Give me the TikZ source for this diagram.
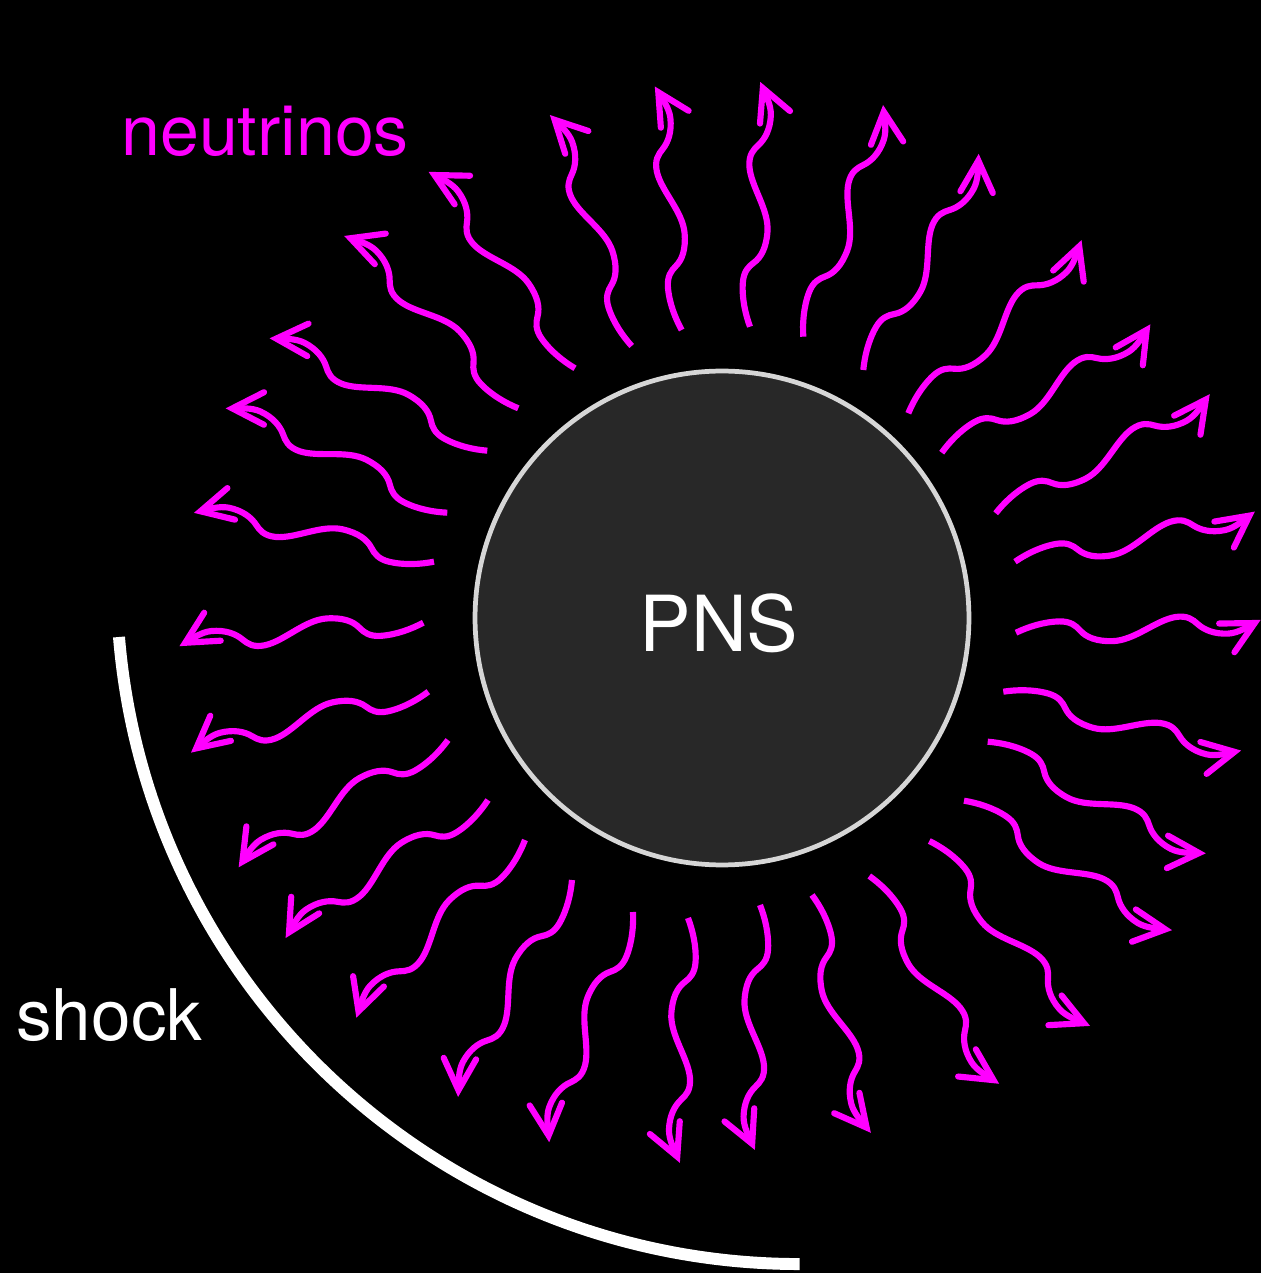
\documentclass[tikz,border=0pt]{standalone}
\usepackage{fontspec}
\setmainfont{TeX Gyre Heros}
\usetikzlibrary{arrows.meta}

\definecolor{nucol}{RGB}{255,0,255}
\definecolor{pnsfill}{RGB}{40,40,40}
\definecolor{pnsrim}{RGB}{214,214,214}

\begin{document}
\begin{tikzpicture}[x=0.02cm, y=0.02cm,
  >={Straight Barb[length=18pt,width=18.5pt,line cap=round,line join=miter]},
  nu/.style={draw=nucol, line width=3.5pt, ->},
  star/.style={circle, fill=pnsfill, draw=pnsrim, line width=2.7pt,
    minimum size=9.88cm, inner sep=0pt}]
\useasboundingbox[fill=black] (-722,-655) rectangle (539,618);

% proto-neutron star
\node[star] (pns) at (0,0) {};
\node[anchor=base, white, inner sep=0pt, font=\fontsize{44}{50}\selectfont]
  (pnslabel) at (-3,-34) {PNS};

% neutrinos streaming out: start point and direction of each one
\foreach \x/\y/\a in {-40.3/288/96.3, 28/291.3/87.6, 81.3/281.3/71.0,
    141.3/248/61.9, 186.3/204.7/45.0, 219.7/165.3/31.6, 273.7/104.7/29.1,
    293/56.3/11.8, 294/-14.7/3.0, 281.3/-73.7/-13.9, 265.7/-123.7/-27.1,
    242/-182.7/-31.9, 207.3/-223/-49.0, 147.3/-258/-58.0, 90/-277/-76.1,
    38/-287/-91.2, -34/-300/-91.9, -89/-294/-110, -150/-262/-117.7,
    -197/-222/-133.5, -234/-182/-145.7, -274/-122/-148.7,
    -293.7/-73.7/-165.6, -298.7/-4.7/-174.5, -288/56.3/168.5,
    -274.7/105.3/154.8, -234.7/167.3/152.7, -203.7/209.7/135.3,
    -147/249.7/126.7, -90.3/272/109.5}
{
  \begin{scope}[shift={(\x,\y)}, rotate=\a]
    \draw[nu] (0,0) .. controls (12,5) and (28,9.5) .. (44,9)
      .. controls (55,8.6) and (60,4) .. (64,-1)
      .. controls (70,-8.5) and (80,-13) .. (96,-13.5)
      .. controls (118,-14) and (140,5) .. (160,7.3)
      .. controls (172,8.5) and (177,4) .. (182,-1)
      .. controls (188,-7) and (198,-12) .. (212,-12)
      .. controls (222,-12) and (233,-5.6) .. (245,0);
  \end{scope}
}
\node[anchor=base west, nucol, inner sep=0pt, font=\fontsize{39.8}{44}\selectfont]
  (nulabel) at (-601,462) {neutrinos};

% shock front
\draw[white, line width=6.8pt] (-603,-19) arc[start angle=184.7, end angle=270, radius=683];
\node[anchor=base west, white, inner sep=0pt, font=\fontsize{40.5}{44}\selectfont]
  (shocklabel) at (-706,-422) {shock};
\end{tikzpicture}
\end{document}
